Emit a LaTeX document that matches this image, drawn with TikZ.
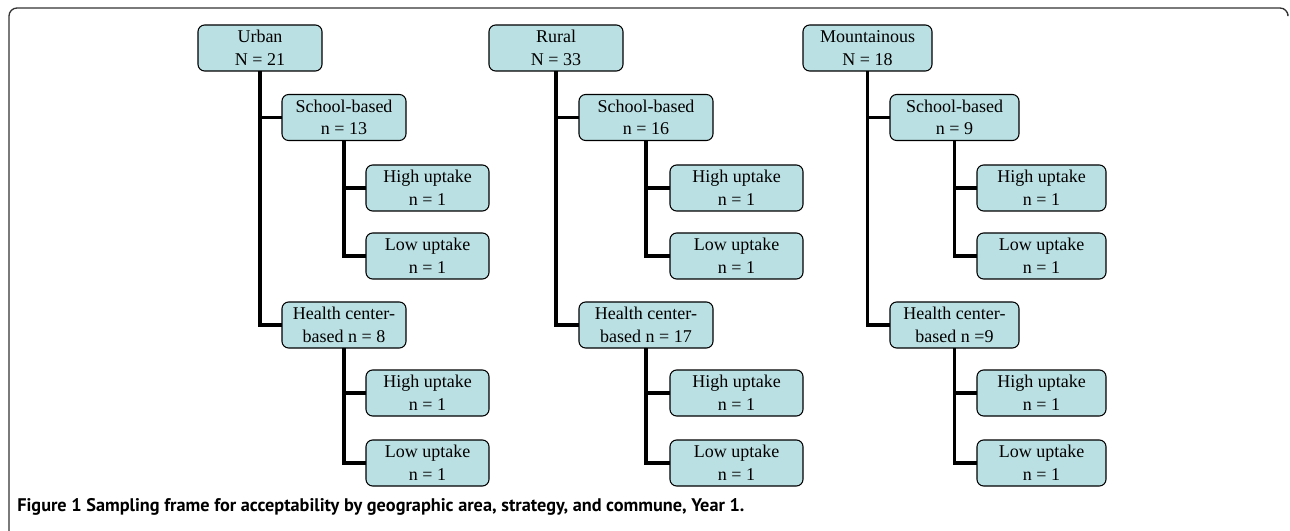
\documentclass[tikz,border=0pt]{standalone}
\usepackage{fontspec}
\setmainfont{Liberation Serif}
\newfontfamily\capfont{PT Sans}
\definecolor{boxfill}{HTML}{BAE0E3}
\definecolor{framecol}{HTML}{333333}
\tikzset{
  box/.style={draw=black, fill=boxfill, rounded corners=5pt, line width=0.8pt,
    align=center, inner sep=0pt, outer sep=0pt, minimum height=34.5pt,
    anchor=west, font=\fontsize{13.5}{17}\selectfont},
  link/.style={line width=2.6pt, line join=miter},
  frameline/.style={draw=framecol, line width=1pt, rounded corners=6pt}
}
\newcommand\mkcol[9]{%
  \node[box, minimum width=#3] (#1root) at (#2,48) {#7};
  \node[box, minimum width=#3] (#1school) at (#4,117.5) {School-based\\#8};
  \node[box, minimum width=#3] (#1health) at (#4,325) {Health center-\\#9};
  \node[box, minimum width=#6] (#1hs) at (#5,188) {High uptake\\n = 1};
  \node[box, minimum width=#6] (#1ls) at (#5,256) {Low uptake\\n = 1};
  \node[box, minimum width=#6] (#1hh) at (#5,393) {High uptake\\n = 1};
  \node[box, minimum width=#6] (#1lh) at (#5,463) {Low uptake\\n = 1};
  \draw[link] (#1root.south) |- (#1health.west);
  \draw[link] (#1root.south |- #1school.west) -- (#1school.west);
  \draw[link] (#1school.south) |- (#1ls.west);
  \draw[link] (#1school.south |- #1hs.west) -- (#1hs.west);
  \draw[link] (#1health.south) |- (#1lh.west);
  \draw[link] (#1health.south |- #1hh.west) -- (#1hh.west);
}
\begin{document}
\begin{tikzpicture}[x=0.75pt, y=-0.75pt]
  \useasboundingbox (0,0) rectangle (1290,531);
  \draw[frameline] (24,540) -- (9,540) -- (9,8) -- (1288,8) -- (1288,14);
  \mkcol{u}{198}{93pt}{282}{366}{92.25pt}{Urban\\N = 21}{n = 13}{based n = 8}
  \mkcol{r}{489}{100.5pt}{579}{670}{99.75pt}{Rural\\N = 33}{n = 16}{based n = 17}
  \mkcol{m}{803}{96.75pt}{890}{977}{96.75pt}{Mountainous\\N = 18}{n = 9}{based n =9}
  \node[anchor=base west, inner sep=0pt, font=\capfont\fontsize{13.7}{16}\selectfont\bfseries] (cap) at (17,511)
    {Figure 1 Sampling frame for acceptability by geographic area, strategy, and commune, Year 1.};
\end{tikzpicture}
\end{document}
